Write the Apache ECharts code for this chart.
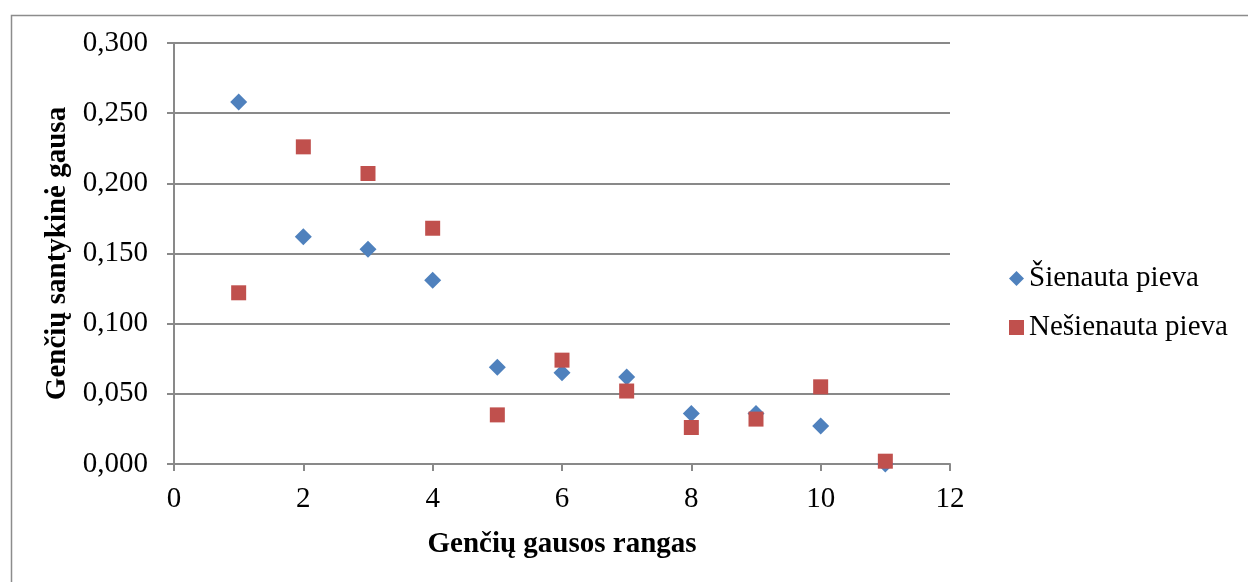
<!DOCTYPE html>
<html>
<head>
<meta charset="utf-8">
<script src="https://cdn.jsdelivr.net/npm/echarts@6/dist/echarts.min.js"></script>
<style>
  html, body { margin: 0; padding: 0; background: #fff; }
  #chart { width: 1248px; height: 582px; }
</style>
</head>
<body>
<div id="chart"></div>
<script>
const ranks = [1, 2, 3, 4, 5, 6, 7, 8, 9, 10, 11];
const mowed = [0.258, 0.162, 0.153, 0.131, 0.069, 0.065, 0.062, 0.036, 0.036, 0.027, 0.000];
const unmowed = [0.122, 0.226, 0.207, 0.168, 0.035, 0.074, 0.052, 0.026, 0.032, 0.055, 0.002];
const seriesNames = ['Šienauta pieva', 'Nešienauta pieva'];

const font = '"Liberation Serif", "Times New Roman", serif';
const axisGray = '#898989';

const chart = echarts.init(document.getElementById('chart'));
chart.setOption({
  animation: false,
  textStyle: { fontFamily: font },
  graphic: [{
    type: 'rect', left: 9, top: 13, z: -1,
    shape: { width: 1260, height: 600 },
    style: { fill: 'none', stroke: '#8c8c8c', lineWidth: 1.5 }
  }],
  grid: { left: 174, right: 298, top: 43, bottom: 118 },
  legend: {
    orient: 'vertical', left: 1004, top: 259, itemGap: 20,
    itemWidth: 15, itemHeight: 15, itemStyle: { opacity: 1 },
    textStyle: { fontFamily: font, fontSize: 29, color: '#000' },
    data: [
      { name: seriesNames[0], icon: 'diamond' },
      { name: seriesNames[1], icon: 'rect' }
    ]
  },
  xAxis: {
    type: 'value', min: 0, max: 12, interval: 2,
    name: 'Genčių gausos rangas', nameLocation: 'middle', nameGap: 66,
    nameTextStyle: { fontFamily: font, fontSize: 29, fontWeight: 'bold', color: '#000' },
    axisLine: { show: true, lineStyle: { color: axisGray, width: 2 } },
    axisTick: { show: true, length: 7, lineStyle: { color: axisGray, width: 2 } },
    axisLabel: { fontFamily: font, fontSize: 29, color: '#000', margin: 21 },
    splitLine: { show: false }
  },
  yAxis: {
    type: 'value', min: 0, max: 0.3, interval: 0.05,
    name: 'Genčių santykinė gausa', nameLocation: 'middle', nameGap: 100,
    nameTextStyle: { fontFamily: font, fontSize: 29, fontWeight: 'bold', color: '#000' },
    axisLine: { show: true, lineStyle: { color: axisGray, width: 2 } },
    axisTick: { show: true, length: 7, lineStyle: { color: axisGray, width: 2 } },
    axisLabel: {
      fontFamily: font, fontSize: 29, color: '#000', margin: 26,
      formatter: (v) => v.toFixed(3).replace('.', ',')
    },
    splitLine: { show: true, lineStyle: { color: axisGray, width: 2 } }
  },
  series: [
    {
      name: seriesNames[0], type: 'scatter', symbol: 'diamond', symbolSize: 17,
      itemStyle: { color: '#4F81BD', opacity: 1 },
      data: ranks.map((r, i) => [r, mowed[i]])
    },
    {
      name: seriesNames[1], type: 'scatter', symbol: 'rect', symbolSize: 15,
      itemStyle: { color: '#C0504D', opacity: 1 },
      data: ranks.map((r, i) => [r, unmowed[i]])
    }
  ]
});
</script>
</body>
</html>
